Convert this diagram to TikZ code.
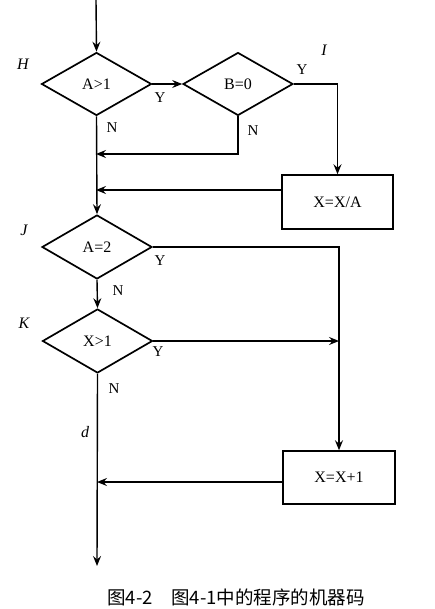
\documentclass[tikz,border=0pt]{standalone}
\usepackage{fontspec}
\setmainfont{Liberation Serif}
\newfontfamily\cjk{Noto Sans CJK SC}
\usetikzlibrary{shapes.geometric,arrows.meta}
\begin{document}
\begin{tikzpicture}[x=1pt,y=-1pt,
  line width=1.4pt,
  every node/.style={font=\fontsize{16}{19}\selectfont},
  dia/.style={draw,diamond,inner sep=0pt,minimum width=110pt,minimum height=63pt,line width=1.7pt},
  box/.style={draw,rectangle,inner sep=0pt,minimum width=111pt,minimum height=54pt,line width=1.5pt},
  arr/.style={-{Stealth[length=10pt,width=8pt,inset=3.5pt]}},
  lab/.style={font=\fontsize{16}{19}\selectfont\itshape},
  yn/.style={font=\fontsize{15}{18}\selectfont}]
\useasboundingbox (0,0) rectangle (435,609);
\node[dia] (H) at (96.5,84) {A>1};
\node[dia] (B) at (238,84) {B=0};
\node[box] (bA) at (337.5,202) {X=X/A};
\node[dia,minimum height=64pt] (J) at (97,247) {A=2};
\node[dia,minimum height=64pt] (K) at (97.5,341) {X>1};
\node[box,minimum width=112pt,minimum height=53pt] (bB) at (339,477.5) {X=X+1};
\coordinate (start) at (96,0);
\coordinate (m1) at (96,154);
\coordinate (m2) at (96,190);
\coordinate (m3) at (97,482);
\coordinate (end) at (97,566);
\coordinate (k1) at (bB.north |- K.east);
\draw[arr] (start) -- (H.north);
\draw[arr] (H.east) -- (B.west);
\draw[arr] (B.east) -| (bA.north);
\draw[arr] (B.south) |- (m1);
\draw[arr] (bA.west |- m2) -- (m2);
\draw[arr] (H.south) -- (J.north);
\draw[arr] (J.south) -- (K.north);
\draw[arr] (J.east) -| (bB.north);
\draw[arr] (K.east) -- (k1);
\draw[arr] (bB.west |- m3) -- (m3);
\draw[arr] (K.south) -- (end);
\node[lab] (lH) at (23,64) {H};
\node[lab] (lI) at (324,50) {I};
\node[lab] (lJ) at (24,230) {J};
\node[lab] (lK) at (24,323) {K};
\node[lab] (ld) at (85,432) {d};
\node[yn] (y1) at (160,98) {Y};
\node[yn] (n1) at (112,128) {N};
\node[yn] (y2) at (302,70) {Y};
\node[yn] (n2) at (253,131) {N};
\node[yn] (y3) at (160,261) {Y};
\node[yn] (n3) at (118,291) {N};
\node[yn] (y4) at (158,352) {Y};
\node[yn] (n4) at (114,389) {N};
\node[font=\cjk\fontsize{18.5}{22}\selectfont] (cap) at (236,597) {图4-2\hspace{1em}图4-1中的程序的机器码};
\end{tikzpicture}
\end{document}
